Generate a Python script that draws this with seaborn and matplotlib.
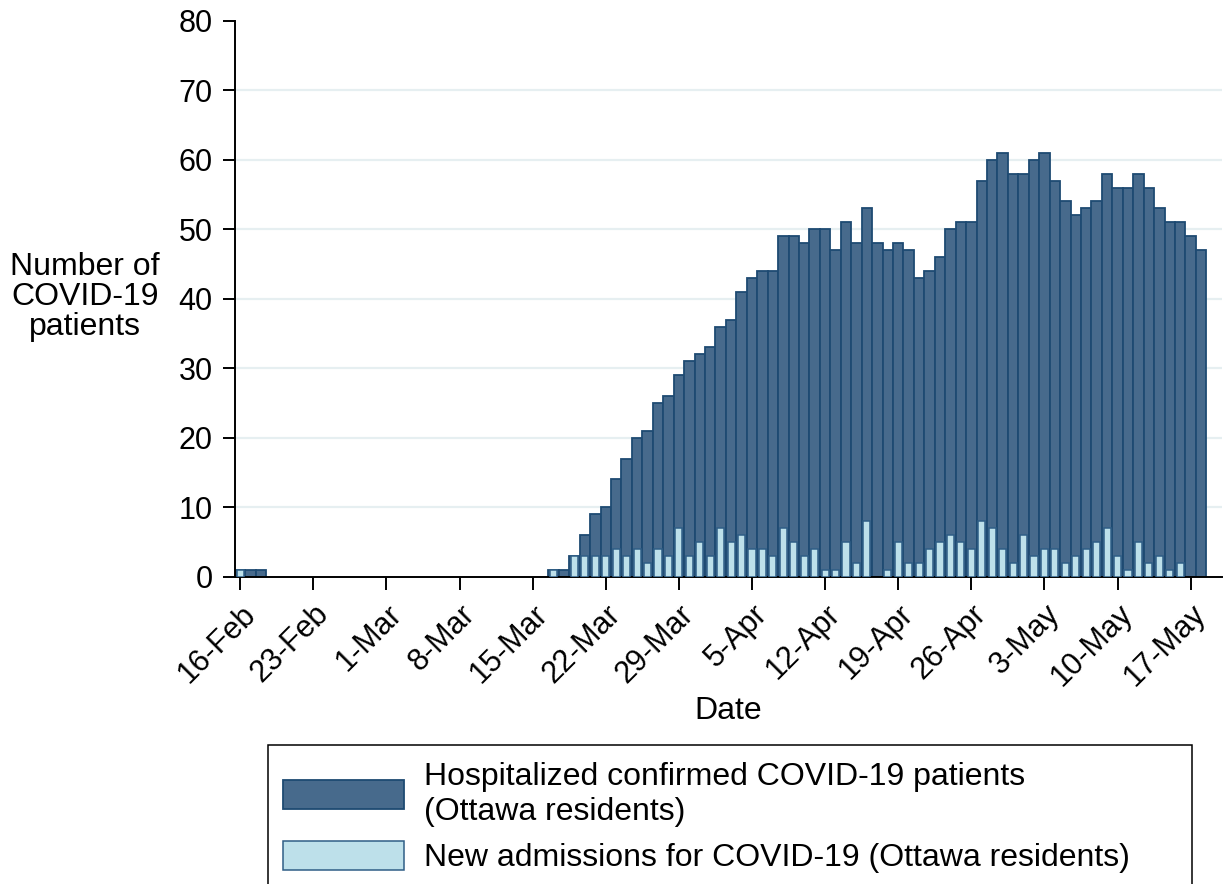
import numpy as np
import pandas as pd
import matplotlib
matplotlib.use("Agg")
import matplotlib.pyplot as plt
import seaborn as sns
from matplotlib.patches import Patch, Rectangle

# ---------------- data ----------------
start_date = "2020-02-16"
end_date = "2020-05-18"

hospitalized = [
    # Feb 16-29
    1, 1, 1, 0, 0, 0, 0, 0, 0, 0, 0, 0, 0, 0,
    # Mar 1-16
    0, 0, 0, 0, 0, 0, 0, 0, 0, 0, 0, 0, 0, 0, 0, 0,
    # Mar 17-31
    1, 1, 3, 6, 9, 10, 14, 17, 20, 21, 25, 26, 29, 31, 32,
    # Apr 1-30
    33, 36, 37, 41, 43, 44, 44, 49, 49, 48, 50, 50, 47, 51, 48,
    53, 48, 47, 48, 47, 43, 44, 46, 50, 51, 51, 57, 60, 61, 58,
    # May 1-18
    58, 60, 61, 57, 54, 52, 53, 54, 58, 56, 56, 58, 56, 53, 51, 51, 49, 47,
]

new_admissions = [
    # Feb 16-29
    1, 0, 0, 0, 0, 0, 0, 0, 0, 0, 0, 0, 0, 0,
    # Mar 1-16
    0, 0, 0, 0, 0, 0, 0, 0, 0, 0, 0, 0, 0, 0, 0, 0,
    # Mar 17-31
    1, 0, 3, 3, 3, 3, 4, 3, 4, 2, 4, 3, 7, 3, 5,
    # Apr 1-30
    3, 7, 5, 6, 4, 4, 3, 7, 5, 3, 4, 1, 1, 5, 2,
    8, 0, 1, 5, 2, 2, 4, 5, 6, 5, 4, 8, 7, 4, 2,
    # May 1-18
    6, 3, 4, 4, 2, 3, 4, 5, 7, 3, 1, 5, 2, 3, 1, 2, 0, 0,
]

tick_labels = ["16-Feb", "23-Feb", "1-Mar", "8-Mar", "15-Mar", "22-Mar", "29-Mar",
               "5-Apr", "12-Apr", "19-Apr", "26-Apr", "3-May", "10-May", "17-May"]
y_ticks = [0, 10, 20, 30, 40, 50, 60, 70, 80]

legend_labels = ["Hospitalized confirmed COVID-19 patients\n(Ottawa residents)",
                 "New admissions for COVID-19 (Ottawa residents)"]

# ---------------- style ----------------
DARK = "#476a8c"
DARK_EDGE = "#1e4a72"
LIGHT = "#bde0ea"
LIGHT_EDGE = "#2f5e86"
GRID = "#e6eff1"

sns.set_theme(style="ticks")
plt.rcParams["font.family"] = ["Liberation Sans", "DejaVu Sans"]
for k in ["text.color", "axes.labelcolor", "xtick.color", "ytick.color",
          "xtick.labelcolor", "ytick.labelcolor", "axes.edgecolor"]:
    plt.rcParams[k] = "black"

dates = pd.date_range(start_date, end_date, freq="D")
day_labels = [f"{d.day}-{d.strftime('%b')}" for d in dates]
df = pd.DataFrame({"day": day_labels, "hosp": hospitalized, "new": new_admissions})

W, H = 1225, 884
fig = plt.figure(figsize=(W / 100, H / 100), dpi=100)
ax = fig.add_axes([235 / W, 1 - 576.7 / H, 987 / W, 556 / H])

sns.barplot(data=df, x="day", y="hosp", order=day_labels, width=1.0, color=DARK,
            saturation=1, edgecolor=DARK_EDGE, linewidth=1.3, errorbar=None,
            ax=ax, zorder=2)
sns.barplot(data=df, x="day", y="new", order=day_labels, width=0.68, color=LIGHT,
            saturation=1, edgecolor=LIGHT_EDGE, linewidth=1.1, errorbar=None,
            ax=ax, zorder=3)
for p in ax.patches:
    if p.get_height() == 0:
        p.set_visible(False)

ax.set_xlim(-0.5, 94)
ax.set_ylim(0, 80)
ax.set_yticks(y_ticks)
ax.set_yticklabels([str(v) for v in y_ticks])
tick_pos = [day_labels.index(t) for t in tick_labels]
ax.set_xticks(tick_pos)
ax.set_xticklabels(tick_labels, rotation=45, ha="right", va="top",
                   rotation_mode="anchor")

ax.yaxis.grid(True, color=GRID, linewidth=1.6)
ax.set_axisbelow(True)
gl = ax.get_ygridlines()
gl[0].set_visible(False)
gl[-1].set_visible(False)

sns.despine(ax=ax)
for s in ["left", "bottom"]:
    ax.spines[s].set_color("black")
    ax.spines[s].set_linewidth(1.4)
ax.tick_params(axis="both", direction="out", length=9, width=1.4, color="black",
               labelsize=22, labelcolor="black")
ax.tick_params(axis="y", pad=7)
ax.tick_params(axis="x", pad=7)

ax.set_xlabel("Date", fontsize=23, color="black", va="center")
ax.xaxis.set_label_coords(0.5, (576.7 - 711) / 556)
ax.set_ylabel("Number of\nCOVID-19\npatients", rotation=0, fontsize=23,
              color="black", ha="center", va="center", linespacing=1.0)
ax.yaxis.set_label_coords(-0.152, 0.503)

handles = [Patch(facecolor=DARK, edgecolor=DARK_EDGE, linewidth=1.3),
           Patch(facecolor=LIGHT, edgecolor=LIGHT_EDGE, linewidth=1.1)]
fig.legend(handles=handles, labels=legend_labels, loc="upper left",
           bbox_to_anchor=(283 / W, 1 - 762 / H), bbox_transform=fig.transFigure,
           frameon=False, fontsize=23, handlelength=3.8, handleheight=1.03,
           handletextpad=0.62, labelspacing=0.45, borderpad=0, borderaxespad=0,
           labelcolor="black")

frame = Rectangle((268 / W, -0.05), (1192 - 268) / W, (1 - 745 / H) + 0.05,
                  transform=fig.transFigure, fill=False, edgecolor="black",
                  linewidth=1.1, clip_on=False)
fig.add_artist(frame)

fig.savefig("out.png", dpi=100)
